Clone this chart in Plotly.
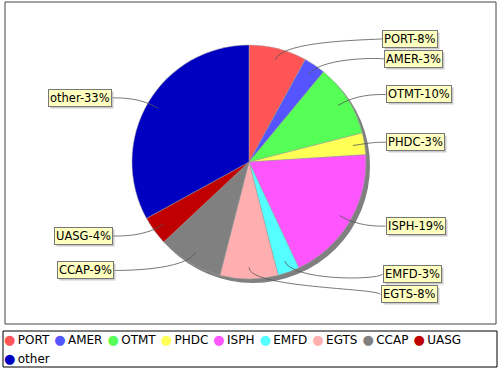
import math
import plotly.graph_objects as go

# ---- data ----
labels = ["PORT", "AMER", "OTMT", "PHDC", "ISPH", "EMFD", "EGTS", "CCAP", "UASG", "other"]
values = [8, 3, 10, 3, 19, 3, 8, 9, 4, 33]
colors = ["#FF5555", "#5555FF", "#55FF55", "#FFFF55", "#FF55FF",
          "#55FFFF", "#FFAFAF", "#808080", "#C00000", "#0000C0"]

# ---- geometry (pixels) ----
W, H = 500, 370
CX, CY, R = 249, 162, 117
SHADOW = 4
RL = 126          # label / elbow radius
LINK = 0.9        # link point depth inside slice
GAP = 20          # min vertical label spacing
FONT = "DejaVu Sans"


def px(x):
    return x / W


def py(y):
    return 1 - y / H


total = sum(values)
fig = go.Figure()

# shadow pie
fig.add_trace(go.Pie(
    values=[1], marker=dict(colors=["#808080"], line=dict(width=0)),
    textinfo="none", hoverinfo="skip", showlegend=False, sort=False,
    domain=dict(x=[px(CX - R + SHADOW), px(CX + R + SHADOW)],
                y=[py(CY + R + SHADOW), py(CY - R + SHADOW)])))

fig.add_trace(go.Pie(
    labels=labels, values=values, sort=False, direction="clockwise", rotation=0,
    marker=dict(colors=colors, line=dict(color="#A0A0A0", width=0.5)),
    textinfo="none", showlegend=False,
    domain=dict(x=[px(CX - R), px(CX + R)], y=[py(CY + R), py(CY - R)])))

# ---- labels ----
recs = []
cum = 0
for name, v in zip(labels, values):
    mid = (cum + v / 2) / total * 2 * math.pi
    cum += v
    s, c = math.sin(mid), math.cos(mid)
    recs.append(dict(name=name, text=f"{name}-{round(100 * v / total)}%",
                     s=s, c=c, y=CY - c * RL, right=s >= 0))

for side in (True, False):
    grp = sorted([r for r in recs if r["right"] == side], key=lambda r: r["y"])
    for _ in range(50):
        for a, b in zip(grp, grp[1:]):
            d = GAP - (b["y"] - a["y"])
            if d > 0:
                a["y"] -= d / 2
                b["y"] += d / 2

shapes = []
annotations = []
for r in recs:
    s, c = r["s"], r["c"]
    linkx, linky = CX + s * R * LINK, CY - c * R * LINK
    elbx, elby = CX + s * RL, CY - c * RL
    if r["right"]:
        ancx = CX + RL
        tx = CX + 131.5 + 6 * abs(s)
    else:
        ancx = CX - RL
        tx = CX - 131.5 - 6 * abs(s)
    ty = r["y"]
    path = (f"M {px(tx)},{py(ty)} C {px(ancx)},{py(elby)} "
            f"{px(elbx)},{py(elby)} {px(linkx)},{py(linky)}")
    shapes.append(dict(type="path", path=path, xref="paper", yref="paper",
                       line=dict(color="#555555", width=0.8)))
    anchor = "left" if r["right"] else "right"
    # label shadow
    annotations.append(dict(
        x=px(tx), y=py(ty), xref="paper", yref="paper", text=r["text"],
        showarrow=False, xanchor=anchor, yanchor="middle", xshift=2, yshift=-2,
        font=dict(family=FONT, size=11.5, color="rgba(0,0,0,0)"),
        bgcolor="rgba(151,151,151,0.5)", borderpad=1, borderwidth=1,
        bordercolor="rgba(0,0,0,0)"))
    annotations.append(dict(
        x=px(tx), y=py(ty), xref="paper", yref="paper", text=r["text"],
        showarrow=False, xanchor=anchor, yanchor="middle",
        font=dict(family=FONT, size=11.5, color="black"),
        bgcolor="#FFFFC0", borderpad=1, borderwidth=1, bordercolor="#777777"))

# ---- borders ----
shapes.append(dict(type="rect", xref="paper", yref="paper",
                   x0=px(5), x1=px(496), y0=py(324), y1=py(2),
                   line=dict(color="#444444", width=1)))
shapes.append(dict(type="rect", xref="paper", yref="paper",
                   x0=px(3), x1=px(497), y0=py(367), y1=py(331),
                   line=dict(color="black", width=1)))

# ---- legend (manual, circle markers) ----
def item(name, col):
    return f"<span style='color:{col};font-size:13px'>●</span>\u2009{name}"

row1 = " \u200a".join(item(n, c) for n, c in zip(labels[:9], colors[:9]))
row2 = " \u200a".join(item(n, c) for n, c in zip(labels[9:], colors[9:]))
for txt, yy in ((row1, 339), (row2, 358)):
    annotations.append(dict(x=px(2), y=py(yy), xref="paper", yref="paper",
                            text=txt, showarrow=False, xanchor="left",
                            yanchor="middle",
                            font=dict(family=FONT, size=12, color="black")))

fig.update_layout(width=W, height=H, autosize=False,
                  margin=dict(l=0, r=0, t=0, b=0),
                  paper_bgcolor="white", plot_bgcolor="white",
                  shapes=shapes, annotations=annotations, showlegend=False)

fig.write_html("out.html", config={"displayModeBar": False},
               post_script="document.body.style.margin='0';"
                           "document.body.style.overflow='hidden';")
